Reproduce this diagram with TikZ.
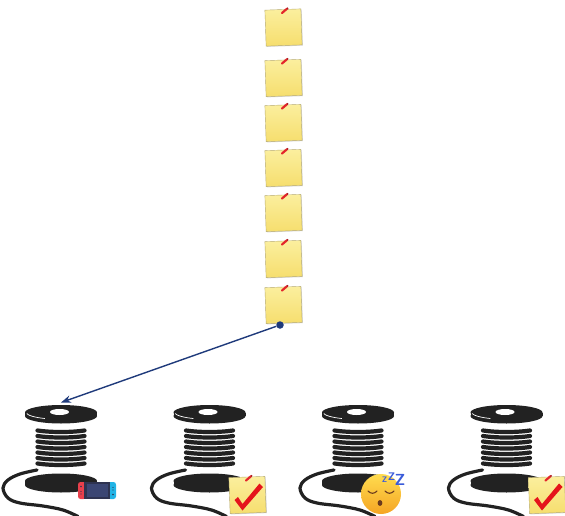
\documentclass[tikz,border=0pt]{standalone}
\usetikzlibrary{arrows.meta}

\definecolor{ink}{HTML}{222222}
\definecolor{linkblue}{HTML}{1F3A7B}
\definecolor{noteA}{HTML}{FBEF9E}
\definecolor{noteB}{HTML}{F6DE6E}
\definecolor{noteedge}{HTML}{B5AA72}
\definecolor{pinred}{HTML}{E3262B}
\definecolor{tickred}{HTML}{E5141B}
\definecolor{joyred}{HTML}{E8404C}
\definecolor{joyblue}{HTML}{22B4E6}
\definecolor{consolebody}{HTML}{2E3350}
\definecolor{consolescreen}{HTML}{3B4673}
\definecolor{faceA}{HTML}{FFDC4F}
\definecolor{faceB}{HTML}{F5A524}
\definecolor{facebrown}{HTML}{6B3A1E}
\definecolor{zzblue}{HTML}{3A5BD9}

\tikzset{
  % sticky note with a red pin
  note/.pic={
    \begin{scope}[rotate=2]
      \fill[black,opacity=0.15] (-17.2,-17.2) rectangle (18.8,18.8);
      \shadedraw[top color=noteA,bottom color=noteB,draw=noteedge,line width=0.4]
        (-18,-18) rectangle (18,18);
    \end{scope}
    \draw[pinred,line width=2.2,line cap=round] (-1.5,-14.5) -- (3.5,-18.8);
    \fill[pinred!75!black] (4,-19.2) circle (1pt);
    \coordinate (-foot) at (-3.5,20);
  },
  % sticky note carrying a red tick
  donenote/.pic={
    \pic (-n) {note};
    \fill[tickred] (-13,5) -- (-9.5,2) -- (-5,9) -- (12,-11.5) -- (15.5,-8)
      -- (-5,15.5) -- cycle;
  },
  % spool of thread
  spool/.pic={
    \draw[ink,line width=3.2,line cap=round] plot[smooth,tension=0.6] coordinates
      {(-24,57.5) (-41,61.5) (-53,67.5) (-58,75.5) (-53,85.5) (-41,90.5)
       (-18,93.5) (2,97.5) (17,104)};
    % bottom flange
    \fill[ink] (0,72.5) ellipse [x radius=36pt,y radius=7.5pt];
    \fill[ink] (-36,68.5) rectangle (36,72.5);
    \fill[ink] (0,68.5) ellipse [x radius=36pt,y radius=7.5pt];
    % windings
    \foreach \k in {0,...,6}{
      \draw[ink,line width=4.2,line cap=round]
        (-23.5,{18+5.5*\k}) .. controls (-10,{20+5.5*\k}) and (10,{20+5.5*\k}) .. (23.5,{18+5.5*\k});
    }
    % top flange
    \fill[ink] (0,3.5) ellipse [x radius=36pt,y radius=7.5pt];
    \fill[ink] (-36,0) rectangle (36,3.5);
    \fill[ink] (0,0) ellipse [x radius=36pt,y radius=7.5pt];
    \draw[white,line width=0.7] plot[domain=118:172,samples=20] ({34.5*cos(\x)},{6.8*sin(\x)});
    \fill[white] (-1.5,-0.5) ellipse [x radius=9.5pt,y radius=3pt];
    \coordinate (-top) at (0,-10);
  },
  % handheld console
  console/.pic={
    \fill[joyred,rounded corners=2.5] (-19,-8.5) rectangle (-11,8.5);
    \fill[joyblue,rounded corners=2.5] (11,-8.5) rectangle (19,8.5);
    \fill[consolebody] (-13,-8.5) rectangle (13,8.5);
    \fill[consolescreen] (-10.5,-6.5) rectangle (10.5,6.5);
    \fill[consolebody] (-16,-4) circle (0.9pt) (-16,1) circle (0.7pt) (-16,3.5) circle (0.7pt);
    \fill[consolebody] (16,-3) circle (0.7pt) (16,-0.5) circle (0.7pt) (16,4) circle (0.9pt);
  },
  % sleeping face
  sleepy/.pic={
    \shade[top color=faceA,bottom color=faceB] (0,0) circle (20pt);
    \draw[facebrown,line width=1.1,line cap=round] (-13,-3) .. controls (-10.5,0) and (-6.5,0) .. (-4,-3);
    \draw[facebrown,line width=1.1,line cap=round] (4,-3) .. controls (6.5,0) and (10.5,0) .. (13,-3);
    \fill[facebrown] (-1,9) ellipse [x radius=2.4pt,y radius=2.9pt];
    \node[text=zzblue,inner sep=0,font=\sffamily\bfseries\fontsize{8}{8}\selectfont] (-z1) at (3.5,-14) {Z};
    \node[text=zzblue,inner sep=0,font=\sffamily\bfseries\fontsize{11}{11}\selectfont] (-z2) at (10.5,-17.5) {Z};
    \node[text=zzblue,inner sep=0,font=\sffamily\bfseries\fontsize{16}{16}\selectfont] (-z3) at (19,-14) {Z};
  },
}

\begin{document}
\begin{tikzpicture}[x=1pt,y=-1pt]
  \useasboundingbox (0,0) rectangle (565,516);

  % task notes
  \pic (t1) at (283.5,27.5) {note};
  \pic (t2) at (283.5,78) {note};
  \pic (t3) at (283.5,123) {note};
  \pic (t4) at (283.5,168) {note};
  \pic (t5) at (283.5,213) {note};
  \pic (t6) at (283.5,259) {note};
  \pic (t7) at (283.5,305) {note};

  % threads
  \pic (s1) at (61,412.5) {spool};
  \pic (s2) at (209.5,412.5) {spool};
  \pic (s3) at (358,412.5) {spool};
  \pic (s4) at (506.5,412.5) {spool};

  % thread states
  \pic (b1) at (97,490.5) {console};
  \pic (b2) at (247.5,495) {donenote};
  \pic (b3) at (381,494) {sleepy};
  \pic (b4) at (547,495) {donenote};

  % dispatch of the last task to the first thread
  \node[circle,fill=linkblue,inner sep=0,minimum size=7.5pt] (d) at (t7-foot) {};
  \draw[linkblue,line width=1.4,-{Stealth[length=10pt,width=7.5pt]}] (d) -- (s1-top);
\end{tikzpicture}
\end{document}
